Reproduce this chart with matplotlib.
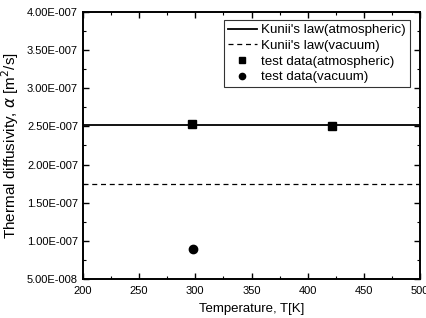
import matplotlib
matplotlib.use('Agg')
import matplotlib.pyplot as plt
from matplotlib.ticker import MultipleLocator, FuncFormatter

plt.rcParams['font.family'] = ['Liberation Sans', 'DejaVu Sans']

# data
temp_range = [200, 500]
kunii_atm = [2.52e-7, 2.52e-7]
kunii_vac = [1.75e-7, 1.75e-7]
test_atm_T = [297, 422]
test_atm = [2.53e-7, 2.51e-7]
test_vac_T = [298]
test_vac = [0.89e-7]


def sci_fmt(v, pos):
    s = '%.2E' % v
    mant, exp = s.split('E')
    sign = exp[0]
    return '%sE%s%03d' % (mant, sign, abs(int(exp)))


fig = plt.figure(figsize=(4.27, 3.18), dpi=100)
ax = fig.add_axes([0.194, 0.123, 0.79, 0.839])

ax.plot(temp_range, kunii_atm, color='black', lw=1.3, label="Kunii's law(atmospheric)")
ax.plot(temp_range, kunii_vac, color='black', lw=0.9, ls=(0, (4, 3)), label="Kunii's law(vacuum)")
ax.plot(test_atm_T, test_atm, 's', color='black', ms=6, label='test data(atmospheric)')
ax.plot(test_vac_T, test_vac, 'o', color='black', ms=6, label='test data(vacuum)')

ax.set_xlim(200, 500)
ax.set_ylim(5e-8, 4e-7)
ax.xaxis.set_major_locator(MultipleLocator(50))
ax.xaxis.set_minor_locator(MultipleLocator(25))
ax.yaxis.set_major_locator(MultipleLocator(5e-8))
ax.yaxis.set_minor_locator(MultipleLocator(2.5e-8))
ax.yaxis.set_major_formatter(FuncFormatter(sci_fmt))
ax.tick_params(which='both', direction='in', top=True, right=True, labelsize=8)
ax.tick_params(axis='x', pad=5)
ax.tick_params(which='major', length=4, width=1.0)
ax.tick_params(which='minor', length=2, width=0.8)
for sp in ax.spines.values():
    sp.set_linewidth(1.4)

ax.set_xlabel('Temperature, T[K]', fontsize=9.5, labelpad=5)
ax.set_ylabel(r'Thermal diffusivity, $\alpha$ [m$^2$/s]', fontsize=11, labelpad=4)

leg = ax.legend(loc='upper right', fontsize=9.6, frameon=True, fancybox=False,
                edgecolor='black', handlelength=2.2, borderpad=0.3,
                labelspacing=0.25, handletextpad=0.3, borderaxespad=0.4,
                markerscale=0.75, bbox_to_anchor=(0.985, 0.99))
leg.get_frame().set_linewidth(0.8)

fig.savefig('out.png', dpi=100)
